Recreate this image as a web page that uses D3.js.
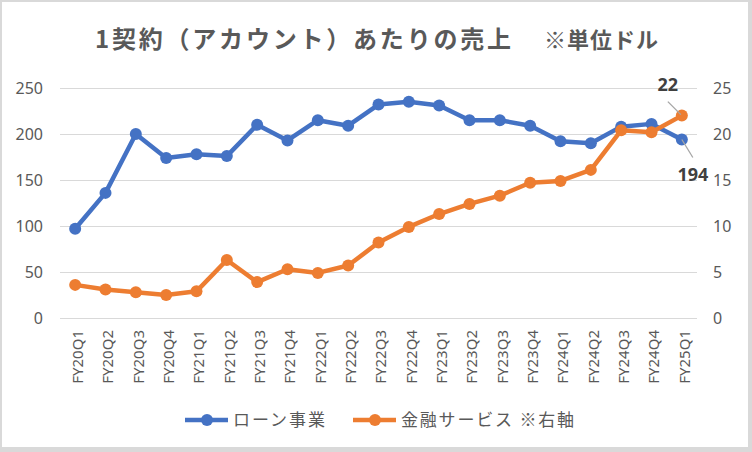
<!DOCTYPE html>
<html>
<head>
<meta charset="utf-8">
<script src="https://cdn.jsdelivr.net/npm/d3@7"></script>
<style>
  html, body { margin: 0; padding: 0; background: #d9d9d9; }
  svg { display: block; }
</style>
</head>
<body>
<div id="chart"></div>
<script>
// quarters on the x axis
const quarters = ["FY20Q1", "FY20Q2", "FY20Q3", "FY20Q4", "FY21Q1", "FY21Q2", "FY21Q3", "FY21Q4",
    "FY22Q1", "FY22Q2", "FY22Q3", "FY22Q4", "FY23Q1", "FY23Q2", "FY23Q3", "FY23Q4",
    "FY24Q1", "FY24Q2", "FY24Q3", "FY24Q4", "FY25Q1"];

// ローン事業 (left axis)
const loanValues = [97, 136, 200, 174, 178, 176, 210, 193, 215, 209, 232, 235, 231, 215, 215, 209,
    192, 190, 208, 211, 194];

// 金融サービス (right axis)
const financeValues = [3.6, 3.1, 2.8, 2.5, 2.9, 6.3, 3.9, 5.3, 4.9, 5.7, 8.2, 9.9, 11.3, 12.4, 13.3, 14.7,
    14.9, 16.1, 20.4, 20.2, 22.0];

const leftTicks = [0, 50, 100, 150, 200, 250];
const rightTicks = [0, 5, 10, 15, 20, 25];
const seriesNames = ["ローン事業", "金融サービス ※右軸"];
const seriesColors = ["#4472C4", "#ED7D31"];

const width = 752;
const height = 452;
const jpFont = "'Noto Sans CJK JP', 'Noto Sans', sans-serif";
const numFont = "'Noto Sans', 'DejaVu Sans', sans-serif";
const textGray = "#595959";

const svg = d3.select("#chart")
    .append("svg")
    .attr("width", width)
    .attr("height", height);

// chart area with light border
svg.append("rect")
    .attr("x", 2)
    .attr("y", 2)
    .attr("width", 746)
    .attr("height", 445)
    .attr("fill", "#fff");

const plotLeft = 60, plotRight = 697, plotTop = 88, plotBottom = 318;

const x = d3.scalePoint()
    .domain(quarters)
    .range([plotLeft, plotRight])
    .padding(0.5);

const yLeft = d3.scaleLinear().domain([0, 250]).range([plotBottom, plotTop]);
const yRight = d3.scaleLinear().domain([0, 25]).range([plotBottom, plotTop]);

// gridlines
svg.append("g")
    .attr("transform", `translate(${plotLeft},0)`)
    .call(d3.axisLeft(yLeft).tickValues(leftTicks).tickSize(-(plotRight - plotLeft)).tickFormat(""))
    .call(g => g.select(".domain").remove())
    .call(g => g.selectAll("line").attr("stroke", "#d9d9d9").attr("stroke-width", 1));

// left axis
svg.append("g")
    .attr("transform", `translate(${plotLeft},0)`)
    .call(d3.axisLeft(yLeft).tickValues(leftTicks).tickSize(0).tickPadding(17))
    .call(g => g.select(".domain").remove())
    .call(g => g.selectAll("text")
        .style("font-family", numFont)
        .style("font-size", "16px")
        .attr("fill", textGray));

// right axis
svg.append("g")
    .attr("transform", `translate(${plotRight},0)`)
    .call(d3.axisRight(yRight).tickValues(rightTicks).tickSize(0).tickPadding(16))
    .call(g => g.select(".domain").remove())
    .call(g => g.selectAll("text")
        .style("font-family", numFont)
        .style("font-size", "16px")
        .attr("fill", textGray));

// x axis with rotated labels
svg.append("g")
    .attr("transform", `translate(0,${plotBottom})`)
    .call(d3.axisBottom(x).tickSize(0))
    .call(g => g.select(".domain").remove())
    .call(g => g.selectAll("text")
        .attr("transform", "rotate(-90)")
        .attr("x", -12)
        .attr("y", 2)
        .attr("dy", "0.35em")
        .style("text-anchor", "end")
        .style("font-family", numFont)
        .style("font-size", "15px")
        .attr("fill", textGray));

// lines and markers (secondary series drawn on top)
const seriesList = [
    { values: loanValues, y: yLeft, color: seriesColors[0] },
    { values: financeValues, y: yRight, color: seriesColors[1] }
];

seriesList.forEach(s => {
    const line = d3.line()
        .x((d, i) => x(quarters[i]))
        .y(d => s.y(d));

    svg.append("path")
        .datum(s.values)
        .attr("d", line)
        .attr("fill", "none")
        .attr("stroke", s.color)
        .attr("stroke-width", 4.5)
        .attr("stroke-linejoin", "round");

    svg.append("g")
        .selectAll("circle")
        .data(s.values)
        .enter()
        .append("circle")
        .attr("cx", (d, i) => x(quarters[i]))
        .attr("cy", d => s.y(d))
        .attr("r", 6)
        .attr("fill", s.color);
});

// data labels for the last quarter
const lastQ = quarters[quarters.length - 1];
const lastLoan = loanValues[loanValues.length - 1];
const lastFin = financeValues[financeValues.length - 1];

svg.append("line")
    .attr("x1", x(lastQ) - 14).attr("y1", yRight(lastFin) - 14)
    .attr("x2", x(lastQ) - 1).attr("y2", yRight(lastFin) - 1)
    .attr("stroke", "#a6a6a6").attr("stroke-width", 1.3);

svg.append("text")
    .attr("x", x(lastQ) - 14)
    .attr("y", yRight(lastFin) - 25)
    .attr("text-anchor", "middle")
    .style("font-family", numFont)
    .style("font-size", "18px")
    .style("font-weight", "bold")
    .attr("fill", "#404040")
    .text(d3.format(".0f")(lastFin));

svg.append("line")
    .attr("x1", x(lastQ)).attr("y1", yLeft(lastLoan))
    .attr("x2", x(lastQ) + 11).attr("y2", yLeft(lastLoan) + 18)
    .attr("stroke", "#a6a6a6").attr("stroke-width", 1.3);

svg.append("text")
    .attr("x", x(lastQ) + 11)
    .attr("y", yLeft(lastLoan) + 41)
    .attr("text-anchor", "middle")
    .style("font-family", numFont)
    .style("font-size", "18px")
    .style("font-weight", "bold")
    .attr("fill", "#404040")
    .text(lastLoan);

// title
svg.append("text")
    .attr("x", 95)
    .attr("y", 48)
    .attr("textLength", 416)
    .attr("lengthAdjust", "spacing")
    .style("font-family", jpFont)
    .style("font-size", "24px")
    .style("font-weight", "bold")
    .attr("fill", textGray)
    .text("1契約（アカウント）あたりの売上");

svg.append("text")
    .attr("x", 544)
    .attr("y", 48)
    .attr("textLength", 114)
    .attr("lengthAdjust", "spacing")
    .style("font-family", jpFont)
    .style("font-size", "22px")
    .style("font-weight", "bold")
    .attr("fill", textGray)
    .text("※単位ドル");

// legend
const legendX = [185, 353];
const legendTextLen = [92, 173];

const legend = svg.append("g")
    .selectAll("g")
    .data(seriesNames)
    .enter()
    .append("g")
    .attr("transform", (d, i) => `translate(${legendX[i]},420)`);

legend.append("line")
    .attr("x1", 0).attr("x2", 43)
    .attr("stroke", (d, i) => seriesColors[i])
    .attr("stroke-width", 4.5);

legend.append("circle")
    .attr("cx", 22)
    .attr("r", 6)
    .attr("fill", (d, i) => seriesColors[i]);

legend.append("text")
    .attr("x", 48)
    .attr("y", 6)
    .attr("textLength", (d, i) => legendTextLen[i])
    .attr("lengthAdjust", "spacing")
    .style("font-family", jpFont)
    .style("font-size", "17px")
    .attr("fill", textGray)
    .text(d => d);
</script>
</body>
</html>
